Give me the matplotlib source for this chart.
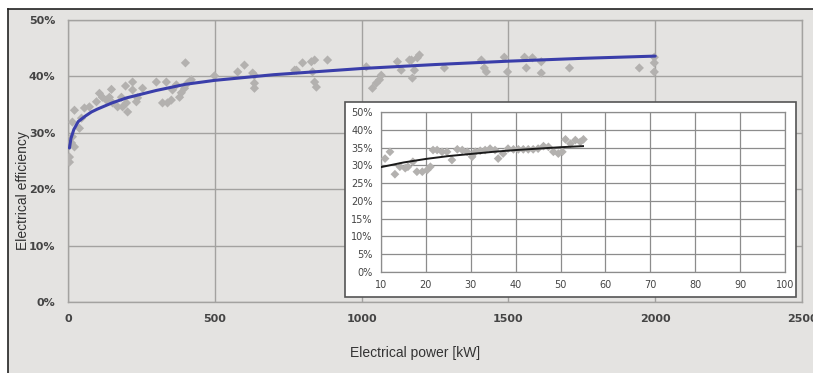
import numpy as np
import matplotlib
matplotlib.use("Agg")
import matplotlib.pyplot as plt
from matplotlib.patches import Rectangle
from matplotlib.ticker import FuncFormatter

# Main chart: electrical power [kW] vs electrical efficiency [%]
power_kw = [5, 5, 12, 15, 22, 15, 22, 39, 46, 56, 73, 97, 107, 117, 131, 141, 148,
            152, 169, 182, 186, 199, 196, 203, 220, 220, 233, 237, 254, 301, 322,
            335, 339, 352, 356, 369, 380, 386, 397, 400, 407, 420, 499, 578, 601,
            635, 635, 635, 629, 778, 772, 799, 829, 833, 840, 846, 840, 884, 1016,
            1037, 1050, 1061, 1067, 1122, 1135, 1173, 1163, 1190, 1170, 1180, 1197,
            1282, 1408, 1418, 1425, 1486, 1497, 1555, 1561, 1582, 1612, 1612, 1708,
            1946, 1997, 1997, 1997]
eff_pct = [25.7, 24.8, 28.2, 29.3, 27.5, 31.9, 34.0, 30.8, 32.6, 34.4, 34.6, 35.5,
           37.0, 36.3, 35.8, 36.3, 37.7, 35.3, 34.6, 36.3, 34.6, 35.3, 38.3, 33.7,
           37.6, 39.0, 35.5, 36.2, 37.9, 39.0, 35.3, 39.0, 35.3, 35.8, 37.6, 38.5,
           36.3, 37.1, 37.9, 42.4, 38.8, 39.4, 40.1, 40.8, 42.0, 38.8, 37.9, 40.2,
           40.6, 41.1, 41.1, 42.4, 42.6, 40.8, 39.0, 38.1, 42.9, 42.9, 41.7,
           37.9, 38.8, 39.4, 40.2, 42.6, 41.1, 39.7, 42.9, 43.3, 42.9, 41.1, 43.8,
           41.5, 42.9, 41.5, 40.8, 43.4, 40.8, 43.4, 41.5, 43.3, 42.6, 40.6, 41.5,
           41.5, 43.4, 42.4, 40.8]

# trendline
trend_kw = [5, 10, 20, 35, 60, 80, 100, 150, 200, 300, 400, 500, 700, 1000, 1250,
            1500, 1750, 2000]
trend_pct = [27.3, 29.0, 30.6, 32.0, 33.0, 33.7, 34.2, 35.3, 36.2, 37.5, 38.6, 39.3,
             40.3, 41.4, 42.1, 42.7, 43.2, 43.6]

# Inset: small units 10-100 kW
small_kw = [10.9, 12.0, 13.1, 14.2, 15.4, 16.0, 17.1, 18.0, 19.2, 20.3, 21.0, 21.6,
            22.5, 23.6, 24.7, 25.8, 27.0, 28.1, 29.2, 30.3, 31.0, 32.1, 33.2, 34.3,
            35.4, 36.1, 37.2, 38.3, 39.5, 40.6, 41.7, 42.8, 43.9, 45.0, 46.2, 47.3,
            48.4, 49.5, 50.4, 51.1, 52.2, 53.3, 54.4, 55.1]
small_pct = [31.9, 33.8, 27.5, 29.6, 29.2, 29.6, 31.0, 28.2, 28.2, 28.7, 29.6, 34.3,
             34.3, 33.8, 33.8, 31.5, 34.5, 34.3, 33.8, 32.4, 33.8, 34.1, 34.3, 34.7,
             34.3, 31.9, 33.3, 34.7, 34.5, 34.5, 34.5, 34.5, 34.5, 34.7, 35.4, 35.2,
             33.8, 33.3, 33.8, 37.3, 36.1, 37.1, 36.6, 37.3]
small_trend_kw = [10, 15, 20, 25, 30, 35, 40, 45, 50, 55]
small_trend_pct = [29.5, 30.8, 31.8, 32.6, 33.2, 33.8, 34.3, 34.7, 35.1, 35.4]

inset_ytick_labels = ["0%", "5%", "10%", "15%", "20%", "25%", "30%", "35%", "40%", "50%"]

BG = "#e4e3e1"
GRID = "#a3a2a0"
DOT = "#b3b1af"
TXT = "#333333"
W, H = 813, 373

fig = plt.figure(figsize=(W / 100, H / 100), dpi=100)
fig.patch.set_facecolor("white")

# chart area with black frame on top/left
fig.patches.append(Rectangle((8 / W, 0), 1, 1 - 9 / H, transform=fig.transFigure,
                             facecolor=BG, edgecolor="none", zorder=-5))
fig.add_artist(plt.Line2D([7.5 / W, 1], [1 - 8.5 / H] * 2, color="#222222", lw=1.2,
                          transform=fig.transFigure, zorder=-4))
fig.add_artist(plt.Line2D([7.5 / W] * 2, [0, 1 - 8.5 / H], color="#222222", lw=1.2,
                          transform=fig.transFigure, zorder=-4))

ax = fig.add_axes([68 / W, 1 - 302 / H, (802 - 68) / W, (302 - 20) / H], zorder=1)
ax.set_facecolor(BG)
ax.scatter(power_kw, np.array(eff_pct) / 100, marker="D", s=22, color=DOT,
           edgecolors="none", zorder=3)
ax.plot(trend_kw, np.array(trend_pct) / 100, color="#3a3eaa", lw=2.2, zorder=4,
        solid_capstyle="round")
ax.set_xlim(0, 2500)
ax.set_ylim(0, 0.5)
ax.set_xticks(np.arange(0, 2501, 500))
ax.set_yticks(np.arange(0, 0.51, 0.1))
ax.yaxis.set_major_formatter(FuncFormatter(lambda v, p: f"{v * 100:.0f}%"))
ax.grid(True, color=GRID, lw=1)
ax.set_axisbelow(True)
for s in ax.spines.values():
    s.set_color(GRID)
    s.set_linewidth(1)
ax.tick_params(length=0, labelsize=8, colors=TXT, pad=9)
for lab in ax.get_xticklabels() + ax.get_yticklabels():
    lab.set_fontweight("bold")
    lab.set_color("#444444")

fig.text(415 / W, 1 - 353 / H, "Electrical power [kW]", ha="center", va="center",
         fontsize=10, family="Liberation Sans", color=TXT)
fig.text(23 / W, 1 - 191 / H, "Electrical efficiency", ha="center", va="center",
         rotation=90, fontsize=10, family="Liberation Sans", color=TXT)

# inset box
fig.patches.append(Rectangle((344.5 / W, 1 - 297 / H), 451.5 / W, 195.5 / H,
                             transform=fig.transFigure, facecolor="white",
                             edgecolor="#555555", lw=1.2, zorder=5))

ins = fig.add_axes([381 / W, 1 - 272 / H, (785 - 381) / W, (272 - 112) / H], zorder=6)
ins.set_facecolor("white")
ins.scatter(small_kw, np.array(small_pct) / 100, marker="D", s=20, color=DOT,
            edgecolors="none", zorder=3)
ins.plot(small_trend_kw, np.array(small_trend_pct) / 100, color="#1a1a1a", lw=1.4,
         zorder=4)
ins.set_xlim(10, 100)
ins.set_ylim(0, 0.45)
ins.set_xticks(np.arange(10, 101, 10))
ins.set_yticks(np.arange(0, 0.451, 0.05))
ins.set_yticklabels(inset_ytick_labels)
ins.grid(True, color="#8c8c8c", lw=0.9)
ins.set_axisbelow(True)
for s in ins.spines.values():
    s.set_color("#8c8c8c")
    s.set_linewidth(0.9)
ins.tick_params(length=0, labelsize=7, colors="#444444", pad=6)

fig.savefig("out.png", dpi=100, facecolor=fig.get_facecolor())
